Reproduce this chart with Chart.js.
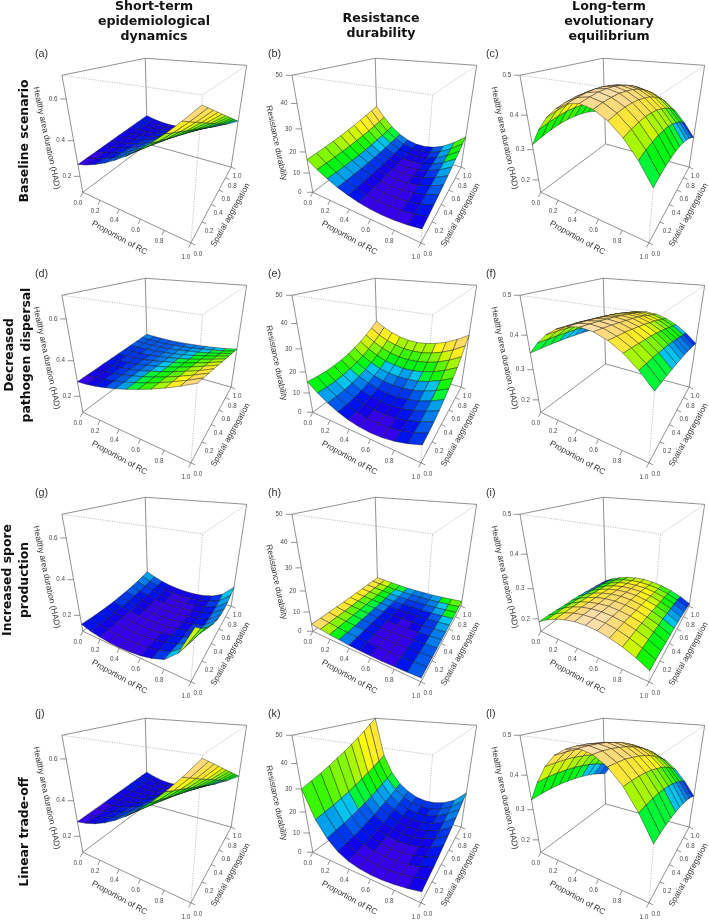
<!DOCTYPE html>
<html><head><meta charset="utf-8">
<style>
html,body{margin:0;padding:0;background:#fff;width:709px;height:920px;overflow:hidden}
canvas{position:absolute;display:block}
.t{position:absolute;font:bold 12.6px "DejaVu Sans",sans-serif;color:#111;text-align:center;white-space:nowrap;transform:translate(-50%,-50%);line-height:15.2px}
.r{position:absolute;font:bold 12.4px "DejaVu Sans",sans-serif;color:#111;text-align:center;white-space:nowrap;transform:translate(-50%,-50%) rotate(-90deg);line-height:16.5px}
.g{position:absolute;font:10.8px "Liberation Sans",sans-serif;color:#333;transform:translateY(-50%)}
</style>
<script src="https://cdn.jsdelivr.net/npm/chart.js@4"></script>
</head><body>
<script>
const rcValues=[0,.1,.2,.3,.4,.5,.6,.7,.8,.9,1];
const aggValues=[0,.1,.2,.3,.4,.5,.6,.7,.8,.9,1];
const xTicks=[0,.2,.4,.6,.8,1];
const yTicks=[0,.2,.4,.6,.8,1];
const zTicksShort=[.2,.4,.6];
const zTicksDur=[0,10,20,30,40,50];
const zTicksLong=[.2,.3,.4,.5];
const zLimShort=[.1,.7];
const zLimDur=[0,50];
const zLimLong=[.155,.5];
const tags=["(a)","(b)","(c)","(d)","(e)","(f)","(g)","(h)","(i)","(j)","(k)","(l)"];
const colTitles=["Short-term\nepidemiological\ndynamics","Resistance\ndurability","Long-term\nevolutionary\nequilibrium"];
const rowTitles=["Baseline scenario","Decreased\npathogen dispersal","Increased spore\nproduction","Linear trade-off"];
const xTitle="Proportion of RC",yTitle="Spatial aggregation",hadTitle="Healthy area duration (HAD)",durTitle="Resistance durability";
// each surface: one row per spatial aggregation value, one column per RC proportion
const surfA=[
[.270,.287,.309,.336,.369,.406,.449,.496,.549,.607,.670],
[.275,.289,.308,.331,.361,.395,.435,.479,.528,.583,.643],
[.280,.291,.306,.327,.353,.384,.421,.461,.508,.559,.616],
[.285,.292,.305,.322,.346,.373,.406,.444,.487,.536,.589],
[.290,.294,.303,.318,.338,.362,.392,.426,.467,.512,.562],
[.295,.296,.302,.313,.330,.351,.378,.409,.446,.488,.535],
[.300,.298,.301,.308,.322,.340,.364,.392,.425,.464,.508],
[.305,.300,.299,.304,.314,.329,.350,.374,.405,.440,.481],
[.310,.301,.298,.299,.307,.318,.335,.357,.384,.417,.454],
[.315,.303,.296,.295,.299,.307,.321,.339,.364,.393,.427],
[.320,.305,.295,.290,.291,.296,.307,.322,.343,.369,.400]];
const surfB=[
[16.5,13.4,10.8,8.6,7.0,5.7,4.9,4.6,4.7,5.3,6.3],
[16.9,13.5,10.7,8.4,6.7,5.4,4.7,4.5,4.8,5.7,7.0],
[17.4,13.7,10.7,8.3,6.5,5.2,4.6,4.5,5.0,6.1,7.8],
[17.9,14.0,10.8,8.2,6.4,5.1,4.5,4.6,5.3,6.7,8.7],
[18.5,14.4,10.9,8.3,6.4,5.1,4.5,4.7,5.6,7.3,9.6],
[19.3,14.9,11.2,8.4,6.4,5.1,4.7,5.0,6.1,8.0,10.7],
[20.0,15.4,11.5,8.6,6.5,5.2,4.8,5.3,6.6,8.8,11.8],
[21.0,16.0,12.0,8.8,6.7,5.4,5.1,5.6,7.1,9.6,13.0],
[21.9,16.7,12.4,9.2,6.9,5.7,5.5,6.1,7.8,10.6,14.2],
[22.9,17.5,13.0,9.6,7.4,6.1,6.0,6.7,8.6,11.6,15.6],
[24.0,18.3,13.6,10.1,7.8,6.5,6.4,7.3,9.4,12.7,17.0]];
const surfC=[
[.315,.367,.407,.435,.452,.458,.451,.433,.404,.363,.310],
[.324,.375,.414,.441,.457,.463,.456,.438,.409,.369,.317],
[.331,.380,.418,.445,.460,.466,.458,.441,.412,.372,.321],
[.336,.384,.421,.446,.461,.466,.459,.441,.413,.374,.323],
[.338,.384,.420,.445,.459,.464,.456,.439,.411,.372,.323],
[.338,.383,.418,.442,.455,.459,.452,.434,.407,.369,.320],
[.335,.378,.412,.436,.449,.452,.445,.428,.400,.362,.315],
[.330,.372,.405,.427,.440,.443,.435,.418,.391,.354,.307],
[.322,.363,.395,.417,.429,.431,.423,.407,.380,.343,.297],
[.312,.352,.383,.403,.414,.417,.409,.393,.366,.330,.285],
[.300,.338,.368,.388,.398,.400,.392,.376,.350,.314,.270]];
const surfD=[
[.285,.291,.300,.312,.327,.344,.364,.386,.411,.439,.470],
[.290,.295,.302,.313,.326,.342,.360,.380,.404,.429,.458],
[.294,.298,.305,.314,.326,.340,.356,.375,.396,.420,.446],
[.299,.302,.307,.315,.325,.338,.353,.369,.389,.410,.435],
[.303,.305,.309,.316,.325,.336,.349,.364,.381,.401,.423],
[.308,.309,.312,.317,.324,.334,.345,.358,.374,.391,.411],
[.312,.312,.314,.317,.323,.331,.341,.352,.366,.381,.399],
[.317,.316,.316,.318,.323,.329,.337,.347,.359,.372,.387],
[.321,.319,.318,.319,.322,.327,.334,.341,.351,.362,.376],
[.326,.323,.321,.320,.322,.325,.330,.336,.344,.353,.364],
[.330,.326,.323,.321,.321,.323,.326,.330,.336,.343,.352]];
const surfE=[
[15.5,11.8,8.8,6.4,4.7,3.6,3.2,3.4,4.3,5.8,8.0],
[15.2,11.6,8.7,6.4,4.7,3.7,3.4,3.7,4.7,6.3,8.6],
[15.2,11.7,8.9,6.6,5.1,4.2,3.9,4.3,5.4,7.1,9.4],
[15.6,12.1,9.4,7.2,5.8,5.0,4.8,5.3,6.4,8.2,10.6],
[16.3,12.9,10.2,8.2,6.8,6.0,6.0,6.5,7.7,9.6,12.2],
[17.3,14.0,11.4,9.4,8.1,7.4,7.5,8.1,9.4,11.4,14.0],
[18.6,15.3,12.8,10.8,9.7,9.2,9.3,9.9,11.4,13.4,16.2],
[20.2,17.1,14.6,12.8,11.7,11.2,11.4,12.2,13.7,15.8,18.6],
[22.1,19.1,16.7,15.0,14.0,13.6,14.0,14.8,16.3,18.5,21.4],
[24.4,21.4,19.1,17.6,16.6,16.3,16.6,17.6,19.2,21.5,24.6],
[27.0,24.1,21.9,20.4,19.5,19.3,19.7,20.8,22.5,24.9,28.0]];
const surfF=[
[.350,.386,.414,.434,.446,.450,.446,.434,.414,.386,.350],
[.349,.384,.412,.431,.443,.447,.443,.431,.412,.384,.349],
[.348,.383,.409,.429,.440,.444,.440,.429,.409,.383,.348],
[.346,.380,.406,.425,.436,.440,.436,.425,.406,.380,.346],
[.344,.377,.403,.421,.432,.436,.432,.421,.403,.377,.344],
[.341,.374,.399,.417,.428,.431,.428,.417,.399,.374,.341],
[.338,.370,.394,.412,.423,.426,.423,.412,.394,.370,.338],
[.334,.365,.389,.407,.417,.420,.417,.407,.389,.365,.334],
[.330,.360,.383,.400,.410,.414,.410,.400,.383,.360,.330],
[.325,.355,.377,.394,.404,.407,.404,.394,.377,.355,.325],
[.320,.349,.371,.387,.397,.400,.397,.387,.371,.349,.320]];
const surfG=[
[.145,.125,.115,.108,.105,.108,.115,.130,.155,.220,.370],
[.142,.124,.114,.107,.103,.105,.111,.125,.146,.197,.320],
[.141,.123,.115,.106,.102,.103,.109,.122,.138,.177,.278],
[.142,.124,.116,.106,.101,.102,.107,.119,.132,.162,.244],
[.144,.127,.117,.107,.101,.101,.105,.116,.128,.150,.218],
[.148,.130,.120,.109,.103,.102,.105,.115,.125,.143,.200],
[.153,.135,.123,.112,.104,.103,.105,.114,.124,.139,.190],
[.160,.140,.128,.115,.107,.105,.107,.115,.124,.140,.188],
[.168,.147,.133,.119,.111,.107,.109,.116,.126,.144,.194],
[.178,.156,.138,.124,.115,.111,.111,.117,.130,.153,.208],
[.190,.165,.145,.130,.120,.115,.115,.120,.135,.165,.230]];
const surfH=[
[3.80,3.10,2.50,2.00,1.60,1.35,1.20,1.20,1.30,1.50,1.80],
[3.67,2.99,2.41,1.92,1.53,1.30,1.16,1.16,1.27,1.48,1.79],
[3.57,2.91,2.35,1.87,1.49,1.27,1.14,1.15,1.27,1.49,1.81],
[3.49,2.85,2.31,1.84,1.47,1.27,1.15,1.16,1.29,1.52,1.85],
[3.43,2.81,2.29,1.83,1.47,1.28,1.17,1.19,1.33,1.57,1.91],
[3.40,2.80,2.30,1.85,1.50,1.33,1.23,1.25,1.40,1.65,2.00],
[3.39,2.81,2.33,1.89,1.55,1.39,1.30,1.33,1.49,1.75,2.11],
[3.41,2.85,2.39,1.96,1.63,1.49,1.41,1.44,1.61,1.88,2.25],
[3.45,2.91,2.47,2.05,1.73,1.60,1.53,1.57,1.75,2.03,2.41],
[3.51,2.99,2.57,2.16,1.85,1.74,1.68,1.72,1.91,2.20,2.59],
[3.60,3.10,2.70,2.30,2.00,1.90,1.85,1.90,2.10,2.40,2.80]];
const surfI=[
[.190,.210,.225,.236,.243,.245,.243,.236,.225,.210,.190],
[.190,.209,.224,.235,.242,.244,.242,.235,.224,.209,.190],
[.188,.208,.223,.234,.240,.242,.240,.234,.223,.208,.188],
[.186,.206,.221,.231,.237,.240,.237,.231,.221,.206,.186],
[.185,.204,.218,.229,.235,.237,.235,.229,.218,.204,.185],
[.183,.202,.216,.226,.233,.235,.233,.226,.216,.202,.183],
[.180,.199,.213,.223,.230,.232,.230,.223,.213,.199,.180],
[.176,.195,.209,.220,.226,.228,.226,.220,.209,.195,.176],
[.173,.192,.206,.216,.222,.224,.222,.216,.206,.192,.173],
[.169,.188,.202,.212,.217,.219,.217,.212,.202,.188,.169],
[.165,.183,.197,.207,.213,.215,.213,.207,.197,.183,.165]];
const surfJ=[
[.285,.296,.313,.337,.368,.405,.449,.499,.556,.620,.690],
[.291,.299,.313,.333,.361,.395,.436,.483,.536,.597,.664],
[.297,.302,.312,.330,.354,.385,.423,.466,.517,.574,.638],
[.303,.304,.312,.326,.348,.375,.409,.450,.497,.551,.612],
[.309,.307,.311,.323,.341,.365,.396,.433,.478,.528,.586],
[.315,.310,.311,.319,.334,.355,.383,.417,.458,.506,.560],
[.321,.313,.311,.315,.327,.345,.370,.401,.438,.483,.534],
[.327,.316,.310,.312,.320,.335,.357,.384,.419,.460,.508],
[.333,.318,.310,.308,.314,.325,.343,.368,.399,.437,.482],
[.339,.321,.309,.305,.307,.315,.330,.351,.380,.414,.456],
[.345,.324,.309,.301,.300,.305,.317,.335,.360,.391,.430]];
const surfK=[
[30.0,18.0,11.0,6.5,4.0,2.8,2.2,2.2,2.8,3.7,5.0],
[31.5,18.8,11.6,7.0,4.4,3.1,2.4,2.4,3.1,4.2,5.9],
[33.0,19.6,12.2,7.5,4.8,3.4,2.8,2.8,3.5,4.8,6.8],
[34.7,20.6,13.0,8.2,5.5,4.0,3.2,3.3,4.1,5.5,7.9],
[36.6,21.8,14.0,9.1,6.2,4.6,3.8,3.9,4.8,6.4,9.2],
[38.5,23.0,15.0,10.0,7.0,5.3,4.5,4.6,5.6,7.4,10.5],
[40.6,24.4,16.2,11.1,8.0,6.1,5.3,5.4,6.5,8.4,11.9],
[42.7,26.0,17.5,12.2,9.0,7.0,6.3,6.4,7.5,9.7,13.5],
[45.0,27.4,19.0,13.5,10.2,8.2,7.4,7.6,8.8,11.3,15.2],
[47.5,29.2,20.4,15.0,11.6,9.5,8.5,8.7,10.0,12.6,17.1],
[50.0,31.0,22.0,16.5,13.0,10.8,9.8,10.0,11.3,14.0,19.0]];
const surfL=[
[.330,.388,.434,.466,.484,.490,.482,.462,.428,.380,.320],
[.333,.390,.434,.465,.483,.488,.481,.461,.428,.381,.323],
[.335,.390,.433,.463,.480,.485,.478,.459,.426,.381,.324],
[.335,.388,.430,.459,.475,.481,.473,.454,.423,.379,.323],
[.333,.385,.425,.453,.469,.474,.467,.448,.418,.375,.321],
[.330,.380,.419,.446,.462,.467,.459,.441,.411,.370,.318],
[.325,.374,.411,.437,.452,.457,.450,.432,.404,.363,.312],
[.319,.366,.402,.427,.441,.446,.439,.421,.394,.355,.305],
[.311,.356,.391,.415,.429,.433,.426,.409,.382,.345,.297],
[.301,.345,.378,.401,.415,.419,.412,.395,.369,.333,.287],
[.290,.332,.364,.386,.399,.403,.396,.380,.355,.320,.275]];

const surfaces=[surfA,surfB,surfC,surfD,surfE,surfF,surfG,surfH,surfI,surfJ,surfK,surfL];

// view of the unit cube as seen in one panel
const cubeView=[
 [0,0,0,83.3,192.3],[1,0,0,191,243],[1,1,0,231.3,166.8],[0,1,0,147,144],
 [0,0,1,61.7,75],[1,0,1,202,95],[1,1,1,246.7,65.5],[0,1,1,145.7,58.3]];
function solveCamera(pts){
  const A=[],b=[];
  pts.forEach(([X,Y,Z,u,v])=>{
    A.push([X,Y,Z,1,0,0,0,0,-u*X,-u*Y,-u*Z]);b.push(u);
    A.push([0,0,0,0,X,Y,Z,1,-v*X,-v*Y,-v*Z]);b.push(v);
  });
  const n=11,M=[];
  for(let i=0;i<n;i++){M[i]=[];for(let j=0;j<=n;j++){let s=0;for(let k=0;k<A.length;k++)s+=A[k][i]*(j<n?A[k][j]:b[k]);M[i][j]=s;}}
  for(let i=0;i<n;i++){
    let p=i;for(let r=i+1;r<n;r++)if(Math.abs(M[r][i])>Math.abs(M[p][i]))p=r;
    [M[i],M[p]]=[M[p],M[i]];
    for(let r=0;r<n;r++){if(r===i)continue;const f=M[r][i]/M[i][i];for(let c=i;c<=n;c++)M[r][c]-=f*M[i][c];}
  }
  return M.map((r,i)=>r[n]/r[i]);
}
const cam=solveCamera(cubeView);
function project(X,Y,Z){
  const w=cam[8]*X+cam[9]*Y+cam[10]*Z+1;
  return {x:(cam[0]*X+cam[1]*Y+cam[2]*Z+cam[3])/w,y:(cam[4]*X+cam[5]*Y+cam[6]*Z+cam[7])/w};
}
function hsv(h,s,v){
  const f=(n)=>{const k=(n+h/60)%6;return v-v*s*Math.max(0,Math.min(k,4-k,1));};
  return `rgb(${Math.round(255*f(5))},${Math.round(255*f(3))},${Math.round(255*f(1))})`;
}
function topo(t){
  const n=24,s=(Math.max(0,Math.min(n-1,Math.floor(t*n)))+.5)/n;
  if(s<1/3)return hsv(258-72*s*3,1,.93);
  if(s<2/3)return hsv(138-72*(s-1/3)*3,1,.97);
  const q=(s-2/3)*3;return hsv(60-24*q,1-.7*q,1);
}
const solidCol="#6e6e6e",dotCol="#a8a8a8";
const LW=252,LH=262;
const colLeft=[0,230,458],rowTop=[0,220,439,660];

const panelText={id:"panelText",afterDraw(chart,a,o){
  const {ctx,scales:{x:sx,y:sy}}=chart;
  const px=p=>sx.getPixelForValue(p.x),py=p=>sy.getPixelForValue(p.y);
  ctx.save();ctx.textAlign="center";ctx.textBaseline="middle";
  ctx.fillStyle="#4a4a4a";ctx.font='6.3px "Liberation Sans"';
  xTicks.forEach(v=>{const p=project(v,0,0);ctx.fillText(v.toFixed(1),px(p)-5,py(p)+(v==1?14:11));});
  yTicks.forEach(v=>{const p=project(1,v,0);ctx.fillText(v.toFixed(1),px(p)+(v==1?6:7),py(p)+(v==0?11:9));});
  o.zTicks.forEach(v=>{const p=project(0,0,(v-o.zLim[0])/(o.zLim[1]-o.zLim[0]));ctx.fillText(o.dur?String(v):v.toFixed(1),px(p)-13,py(p));});
  ctx.fillStyle="#333";ctx.font='8.3px "Liberation Sans"';
  const rot=(s,x,y,a)=>{ctx.save();ctx.translate(x,y);ctx.rotate(a*Math.PI/180);ctx.fillText(s,0,0);ctx.restore();};
  rot(xTitle,119.5,238,28.8);
  rot(yTitle,230.5,215,-60.6);
  rot(o.zTitle,46.5,o.dur?143:138,78);
  ctx.restore();
}};

surfaces.forEach((surf,idx)=>{
  const col=idx%3,row=Math.floor(idx/3);
  const zLim=col==0?zLimShort:col==1?zLimDur:zLimLong;
  const zTicks=col==0?zTicksShort:col==1?zTicksDur:zTicksLong;
  const norm=z=>(z-zLim[0])/(zLim[1]-zLim[0]);
  const cv=document.createElement("canvas");
  cv.style.left=colLeft[col]+"px";cv.style.top=rowTop[row]+"px";
  cv.width=LW;cv.height=LH;document.body.appendChild(cv);
  const lo=Math.min(...surf.flat()),hi=Math.max(...surf.flat());
  const ds=[];
  // nearest facets first: the library paints the first dataset last
  for(let i=rcValues.length-2;i>=0;i--)for(let j=0;j<aggValues.length-1;j++){
    const m=(surf[j][i]+surf[j][i+1]+surf[j+1][i]+surf[j+1][i+1])/4;
    const c=[[i,j],[i+1,j],[i+1,j+1],[i,j+1],[i,j]].map(([a,b])=>project(rcValues[a],aggValues[b],norm(surf[b][a])));
    ds.push({data:c,showLine:true,fill:"shape",backgroundColor:topo((m-lo)/(hi-lo)),borderColor:"rgba(15,15,15,.8)",borderWidth:.5,pointRadius:0,tension:0});
  }
  const seg=(a,b,dash)=>ds.push({data:[a,b],showLine:true,fill:false,borderColor:dash?dotCol:solidCol,borderWidth:dash?.7:.75,borderDash:dash?[1.2,1.2]:[],pointRadius:0,tension:0});
  const C=(x,y,z)=>project(x,y,z);
  seg(C(0,0,0),C(1,0,0));seg(C(1,0,0),C(1,1,0));seg(C(1,1,0),C(0,1,0));seg(C(0,1,0),C(0,0,0));
  seg(C(0,0,0),C(0,0,1));seg(C(0,1,0),C(0,1,1));seg(C(1,1,0),C(1,1,1));seg(C(1,0,0),C(1,0,1),true);
  seg(C(0,0,1),C(0,1,1));seg(C(0,1,1),C(1,1,1));seg(C(0,0,1),C(1,0,1),true);seg(C(1,0,1),C(1,1,1),true);
  const off=(p,dx,dy)=>({x:p.x+dx,y:p.y+dy});
  xTicks.forEach(v=>{const p=C(v,0,0);seg(p,off(p,-2.3,4.6));});
  yTicks.forEach(v=>{const p=C(1,v,0);seg(p,off(p,4.2,2));});
  zTicks.forEach(v=>{const p=C(0,0,norm(v));seg(p,off(p,-6,0));});
  new Chart(cv,{type:"scatter",data:{datasets:ds},plugins:[panelText],options:{
    responsive:false,animation:false,events:[],layout:{padding:0},
    scales:{x:{type:"linear",min:0,max:LW,display:false},y:{type:"linear",min:0,max:LH,reverse:true,display:false}},
    plugins:{legend:{display:false},tooltip:{enabled:false},title:{display:false},
      panelText:{zTicks,zLim,dur:col==1,zTitle:col==1?durTitle:hadTitle}}
  }});
  const g=document.createElement("div");g.className="g";g.textContent=tags[idx];
  g.style.left=[35,268,486][col]+"px";g.style.top=[53,273,492,713][row]+"px";document.body.appendChild(g);
});
[[154,21],[381,25],[609,21]].forEach(([x,y],i)=>{
  const d=document.createElement("div");d.className="t";d.style.left=x+"px";d.style.top=y+"px";
  d.innerHTML=colTitles[i].replace(/\n/g,"<br>");document.body.appendChild(d);
});
[[24,141],[17,355],[15,580],[24,832]].forEach(([x,y],i)=>{
  const d=document.createElement("div");d.className="r";d.style.left=x+"px";d.style.top=y+"px";
  d.innerHTML=rowTitles[i].replace(/\n/g,"<br>");document.body.appendChild(d);
});
</script>
</body></html>
